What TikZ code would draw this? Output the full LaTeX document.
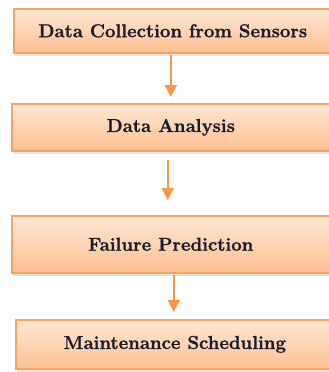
\documentclass[tikz,border=0pt]{standalone}
\usepackage{fontspec}
\setmainfont{Latin Modern Roman}[BoldFeatures={FakeBold=1.2}]
\usetikzlibrary{shadows,arrows.meta}
\definecolor{boxtop}{HTML}{FFE7D5}
\definecolor{boxbot}{HTML}{FCC092}
\definecolor{boxline}{HTML}{F9A35F}
\definecolor{arrcol}{HTML}{F79646}
\definecolor{txt}{HTML}{1B1B2A}
\begin{document}
\begin{tikzpicture}[x=1pt,y=-1pt,
  stagebox/.style={draw=boxline, line width=1.6pt, top color=boxtop, bottom color=boxbot,
    minimum width=336pt, inner sep=0pt, text=txt,
    font=\fontsize{18.6}{20}\selectfont\bfseries,
    drop shadow={opacity=0.22, shadow xshift=1pt, shadow yshift=-3pt}},
  flow/.style={draw=arrcol, line width=1.8pt, -{Triangle[length=12pt,width=12pt]}}]
\useasboundingbox (0,0) rectangle (329,372);
\clip (0,0) rectangle (329,372);
\node[stagebox, minimum height=44pt, anchor=north west] (b1) at (13,8) {Data Collection from Sensors\hspace*{18pt}};
\node[stagebox, minimum height=47pt, anchor=north west] (b2) at (11,103) {Data Analysis\hspace*{18pt}};
\node[stagebox, minimum height=57pt, anchor=north west] (b3) at (11,215) {Failure Prediction\hspace*{18pt}};
\node[stagebox, minimum height=49pt, anchor=north west] (b4) at (15,319) {Maintenance Scheduling\hspace*{18pt}};
\draw[flow, shorten <=1pt, shorten >=6pt] ([xshift=-11pt]b1.south) -- ([xshift=-11pt]b1.south |- b2.north);
\draw[flow, shorten <=8pt, shorten >=15pt] ([xshift=-12pt]b2.south) -- ([xshift=-12pt]b2.south |- b3.north);
\draw[flow, shorten <=1pt, shorten >=7pt] ([xshift=-6pt]b3.south) -- ([xshift=-6pt]b3.south |- b4.north);
\end{tikzpicture}
\end{document}
